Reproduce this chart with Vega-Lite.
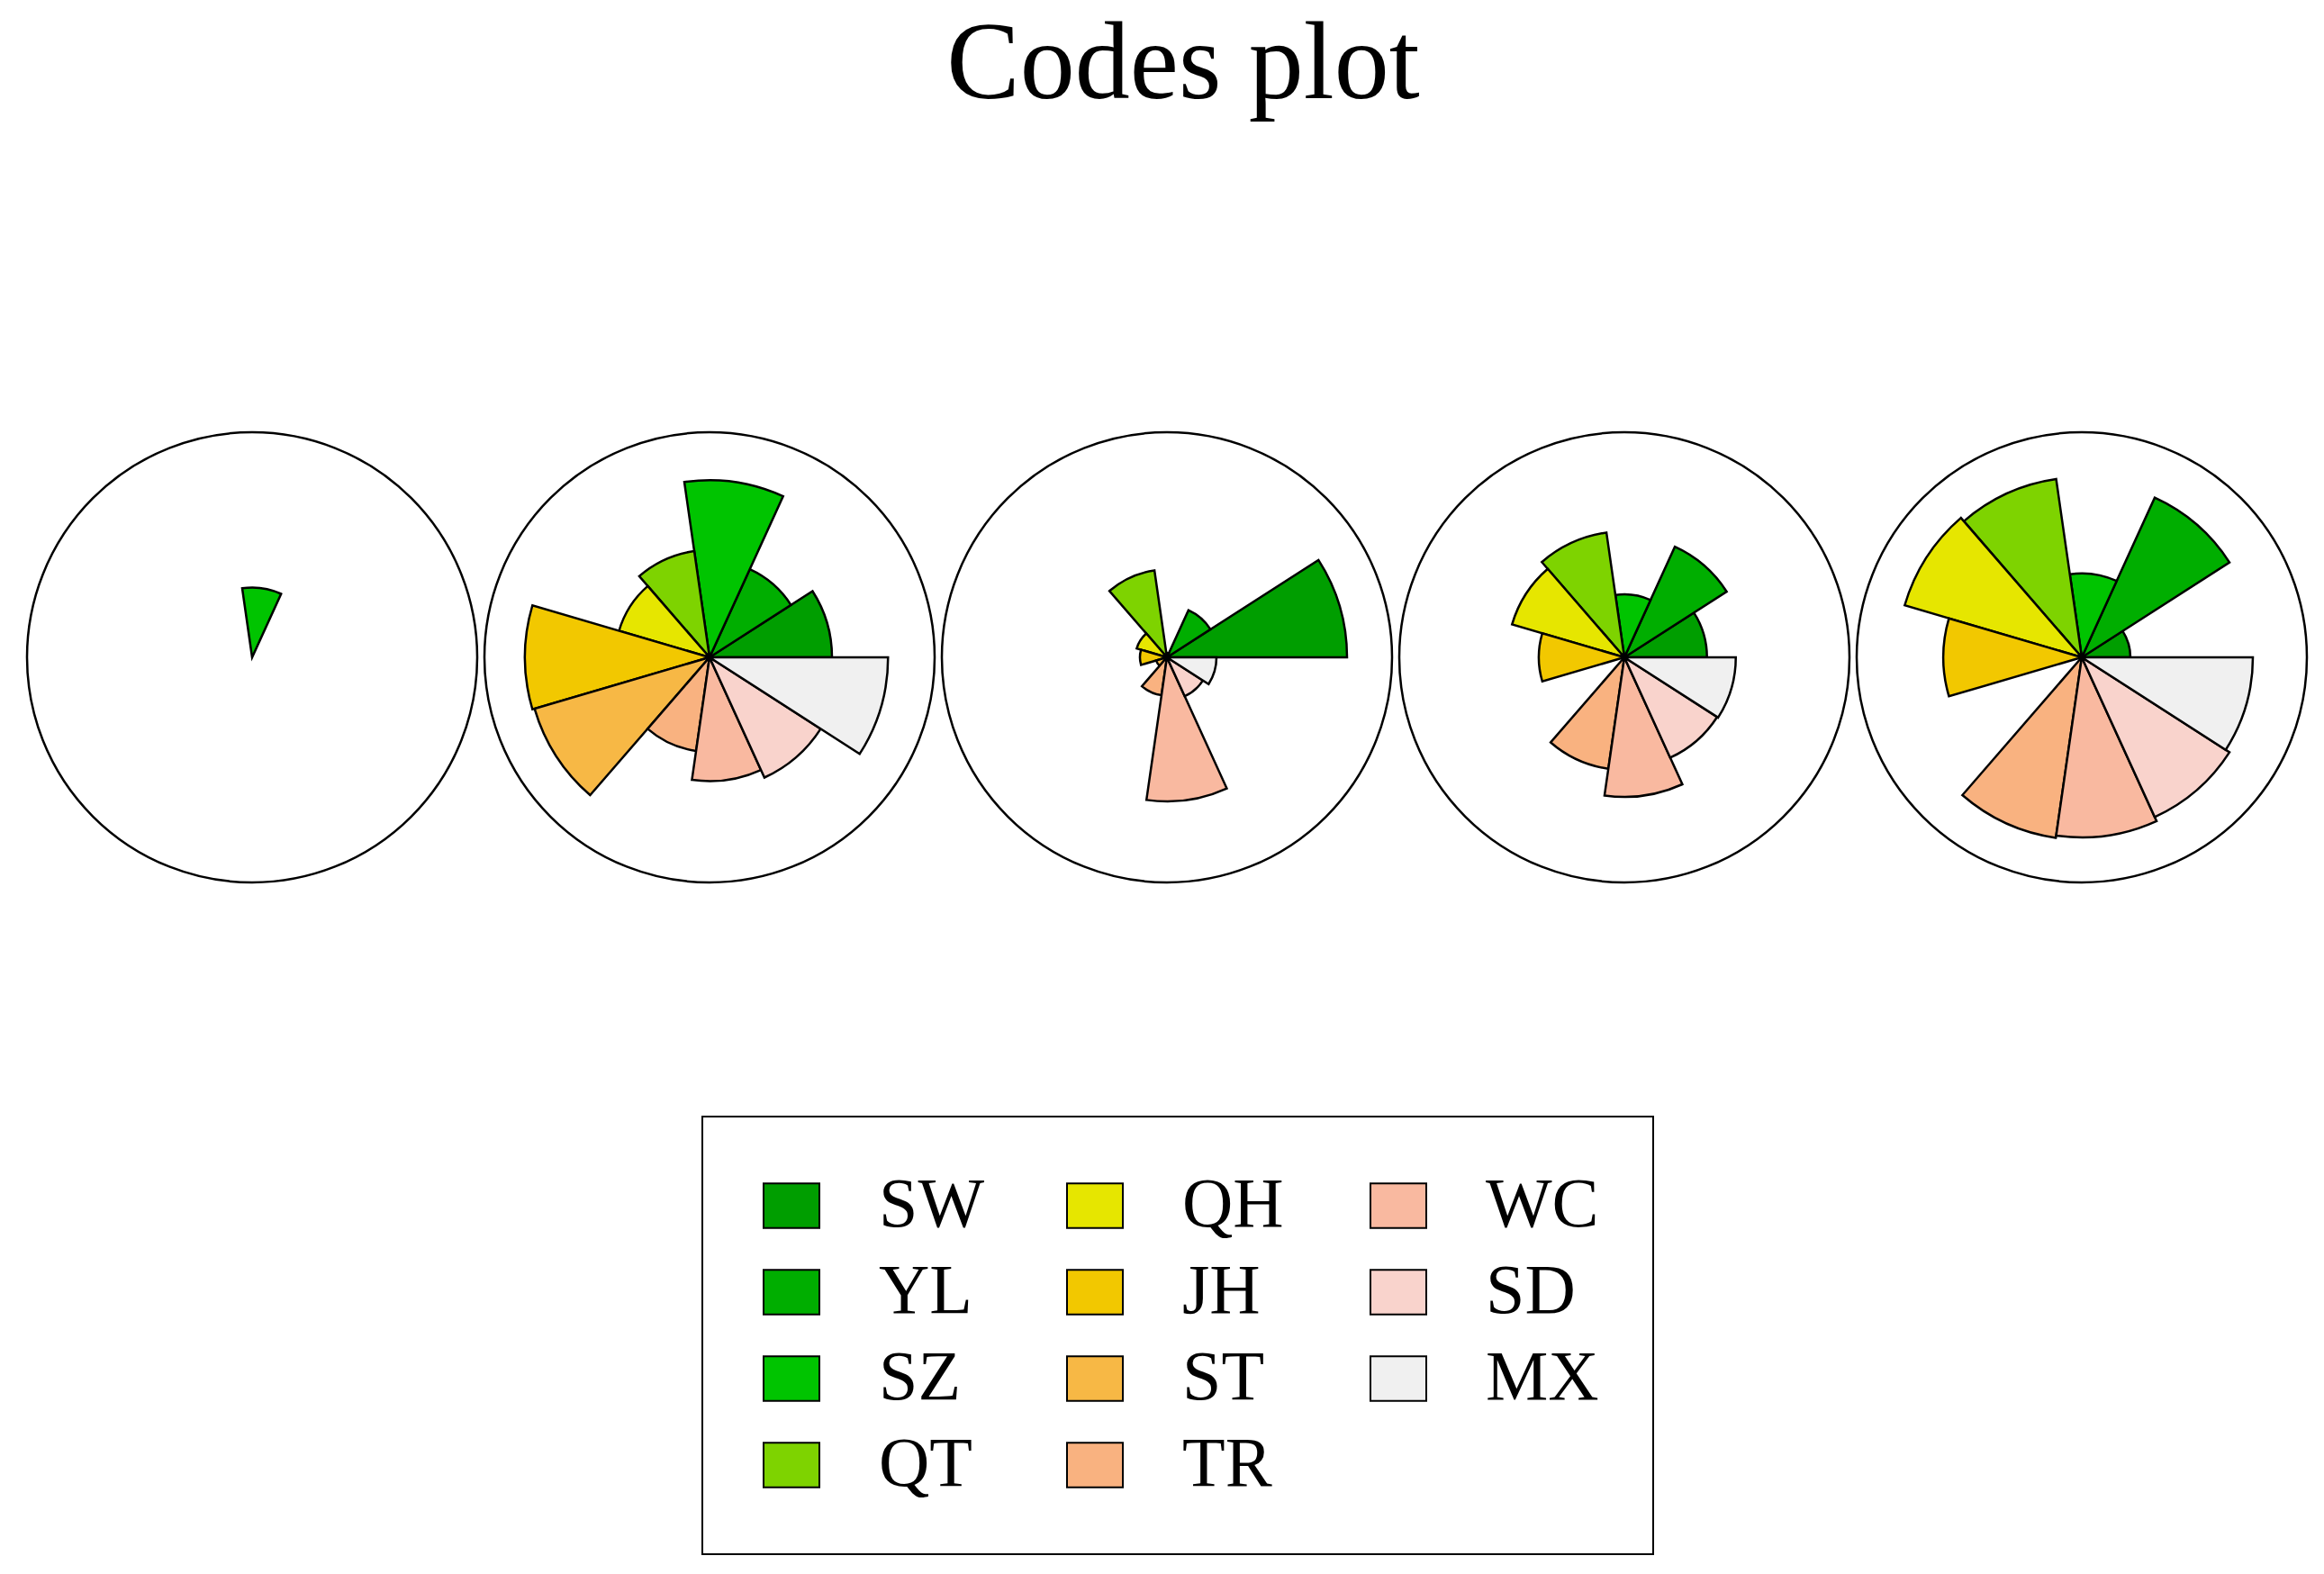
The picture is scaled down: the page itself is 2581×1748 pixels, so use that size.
{
  "$schema": "https://vega.github.io/schema/vega-lite/v6.json",
  "padding": {"left": 25, "top": 11, "right": 0, "bottom": 0},
  "background": "white",
  "bounds": "flush",
  "title": {"text": "Codes plot", "font": "Liberation Serif", "fontSize": 122, "fontWeight": "normal", "color": "black", "anchor": "middle", "offset": 340, "dx": 18},
  "data": {"values": [
    {"unit": 1, "kind": "seg", "var": "SW", "idx": 0, "value": 0},
    {"unit": 1, "kind": "seg", "var": "YL", "idx": 1, "value": 0},
    {"unit": 1, "kind": "seg", "var": "SZ", "idx": 2, "value": 0.31},
    {"unit": 1, "kind": "seg", "var": "QT", "idx": 3, "value": 0},
    {"unit": 1, "kind": "seg", "var": "QH", "idx": 4, "value": 0},
    {"unit": 1, "kind": "seg", "var": "JH", "idx": 5, "value": 0},
    {"unit": 1, "kind": "seg", "var": "ST", "idx": 6, "value": 0},
    {"unit": 1, "kind": "seg", "var": "TR", "idx": 7, "value": 0},
    {"unit": 1, "kind": "seg", "var": "WC", "idx": 8, "value": 0},
    {"unit": 1, "kind": "seg", "var": "SD", "idx": 9, "value": 0},
    {"unit": 1, "kind": "seg", "var": "MX", "idx": 10, "value": 0},
    {"unit": 2, "kind": "seg", "var": "SW", "idx": 0, "value": 0.544},
    {"unit": 2, "kind": "seg", "var": "YL", "idx": 1, "value": 0.43},
    {"unit": 2, "kind": "seg", "var": "SZ", "idx": 2, "value": 0.787},
    {"unit": 2, "kind": "seg", "var": "QT", "idx": 3, "value": 0.477},
    {"unit": 2, "kind": "seg", "var": "QH", "idx": 4, "value": 0.419},
    {"unit": 2, "kind": "seg", "var": "JH", "idx": 5, "value": 0.82},
    {"unit": 2, "kind": "seg", "var": "ST", "idx": 6, "value": 0.81},
    {"unit": 2, "kind": "seg", "var": "TR", "idx": 7, "value": 0.42},
    {"unit": 2, "kind": "seg", "var": "WC", "idx": 8, "value": 0.55},
    {"unit": 2, "kind": "seg", "var": "SD", "idx": 9, "value": 0.587},
    {"unit": 2, "kind": "seg", "var": "MX", "idx": 10, "value": 0.793},
    {"unit": 3, "kind": "seg", "var": "SW", "idx": 0, "value": 0.8},
    {"unit": 3, "kind": "seg", "var": "YL", "idx": 1, "value": 0.23},
    {"unit": 3, "kind": "seg", "var": "SZ", "idx": 2, "value": 0.02},
    {"unit": 3, "kind": "seg", "var": "QT", "idx": 3, "value": 0.39},
    {"unit": 3, "kind": "seg", "var": "QH", "idx": 4, "value": 0.14},
    {"unit": 3, "kind": "seg", "var": "JH", "idx": 5, "value": 0.12},
    {"unit": 3, "kind": "seg", "var": "ST", "idx": 6, "value": 0.05},
    {"unit": 3, "kind": "seg", "var": "TR", "idx": 7, "value": 0.17},
    {"unit": 3, "kind": "seg", "var": "WC", "idx": 8, "value": 0.64},
    {"unit": 3, "kind": "seg", "var": "SD", "idx": 9, "value": 0.19},
    {"unit": 3, "kind": "seg", "var": "MX", "idx": 10, "value": 0.22},
    {"unit": 4, "kind": "seg", "var": "SW", "idx": 0, "value": 0.367},
    {"unit": 4, "kind": "seg", "var": "YL", "idx": 1, "value": 0.54},
    {"unit": 4, "kind": "seg", "var": "SZ", "idx": 2, "value": 0.28},
    {"unit": 4, "kind": "seg", "var": "QT", "idx": 3, "value": 0.56},
    {"unit": 4, "kind": "seg", "var": "QH", "idx": 4, "value": 0.52},
    {"unit": 4, "kind": "seg", "var": "JH", "idx": 5, "value": 0.38},
    {"unit": 4, "kind": "seg", "var": "ST", "idx": 6, "value": 0.01},
    {"unit": 4, "kind": "seg", "var": "TR", "idx": 7, "value": 0.5},
    {"unit": 4, "kind": "seg", "var": "WC", "idx": 8, "value": 0.62},
    {"unit": 4, "kind": "seg", "var": "SD", "idx": 9, "value": 0.49},
    {"unit": 4, "kind": "seg", "var": "MX", "idx": 10, "value": 0.495},
    {"unit": 5, "kind": "seg", "var": "SW", "idx": 0, "value": 0.216},
    {"unit": 5, "kind": "seg", "var": "YL", "idx": 1, "value": 0.78},
    {"unit": 5, "kind": "seg", "var": "SZ", "idx": 2, "value": 0.373},
    {"unit": 5, "kind": "seg", "var": "QT", "idx": 3, "value": 0.8},
    {"unit": 5, "kind": "seg", "var": "QH", "idx": 4, "value": 0.82},
    {"unit": 5, "kind": "seg", "var": "JH", "idx": 5, "value": 0.615},
    {"unit": 5, "kind": "seg", "var": "ST", "idx": 6, "value": 0},
    {"unit": 5, "kind": "seg", "var": "TR", "idx": 7, "value": 0.81},
    {"unit": 5, "kind": "seg", "var": "WC", "idx": 8, "value": 0.8},
    {"unit": 5, "kind": "seg", "var": "SD", "idx": 9, "value": 0.78},
    {"unit": 5, "kind": "seg", "var": "MX", "idx": 10, "value": 0.76},
    {"unit": 1, "kind": "ring", "var": "ring", "idx": -1, "value": 1},
    {"unit": 2, "kind": "ring", "var": "ring", "idx": -1, "value": 1},
    {"unit": 3, "kind": "ring", "var": "ring", "idx": -1, "value": 1},
    {"unit": 4, "kind": "ring", "var": "ring", "idx": -1, "value": 1},
    {"unit": 5, "kind": "ring", "var": "ring", "idx": -1, "value": 1}
  ]},
  "facet": {"column": {"field": "unit", "type": "ordinal", "title": null, "header": {"labels": false, "title": null}}},
  "spacing": 0,
  "spec": {
    "width": 508,
    "height": 508,
    "layer": [
      {
        "transform": [{"filter": "datum.kind == 'ring'"}],
        "mark": {"type": "arc", "filled": false, "stroke": "black", "strokeWidth": 2.5, "theta": 0, "theta2": 6.2832},
        "encoding": {
          "radius": {"field": "value", "type": "quantitative", "stack": null, "scale": {"type": "linear", "domain": [0, 1], "range": [0, 250], "zero": true}}
        }
      },
      {
        "transform": [
          {"filter": "datum.kind == 'seg'"},
          {"aggregate": [{"op": "count", "as": "n"}, {"op": "sum", "field": "value", "as": "r"}, {"op": "min", "field": "idx", "as": "i"}], "groupby": ["unit", "var"]},
          {"stack": "n", "groupby": ["unit"], "sort": [{"field": "i", "order": "ascending"}], "as": ["t0", "t1"]}
        ],
        "mark": {"type": "arc", "stroke": "black", "strokeWidth": 2.5, "opacity": 1},
        "encoding": {
          "theta": {"field": "t0", "type": "quantitative", "stack": null, "scale": {"domain": [0, 11], "range": [1.5708, -4.7124]}},
          "theta2": {"field": "t1"},
          "radius": {"field": "r", "type": "quantitative", "stack": null, "scale": {"type": "linear", "domain": [0, 1], "range": [0, 250], "zero": true}},
          "color": {
            "field": "var", "type": "nominal",
            "scale": {
              "domain": ["SW", "YL", "SZ", "QT", "QH", "JH", "ST", "TR", "WC", "SD", "MX"],
              "range": ["#009E00", "#00AE00", "#00C400", "#7ED300", "#E6E600", "#F2C800", "#F7B845", "#F9B280", "#F9B9A0", "#F9D3CC", "#F0F0F0"]
            },
            "legend": {
              "orient": "none", "legendX": 754, "legendY": 764, "columns": 3, "title": null,
              "symbolType": "M-1,-0.8H1V0.8H-1Z", "symbolSize": 3844, "symbolStrokeColor": "black", "symbolStrokeWidth": 2, "symbolOpacity": 1,
              "labelFont": "Liberation Serif", "labelFontSize": 78, "labelColor": "black", "labelOffset": 58, "labelLimit": 400,
              "columnPadding": 75, "rowPadding": 18, "padding": 60, "strokeColor": "black", "fillColor": "white", "gridAlign": "all",
              "encode": {"legend": {"update": {"strokeWidth": {"value": 2}}}}
            }
          }
        }
      }
    ]
  },
  "config": {"view": {"stroke": null}}
}
